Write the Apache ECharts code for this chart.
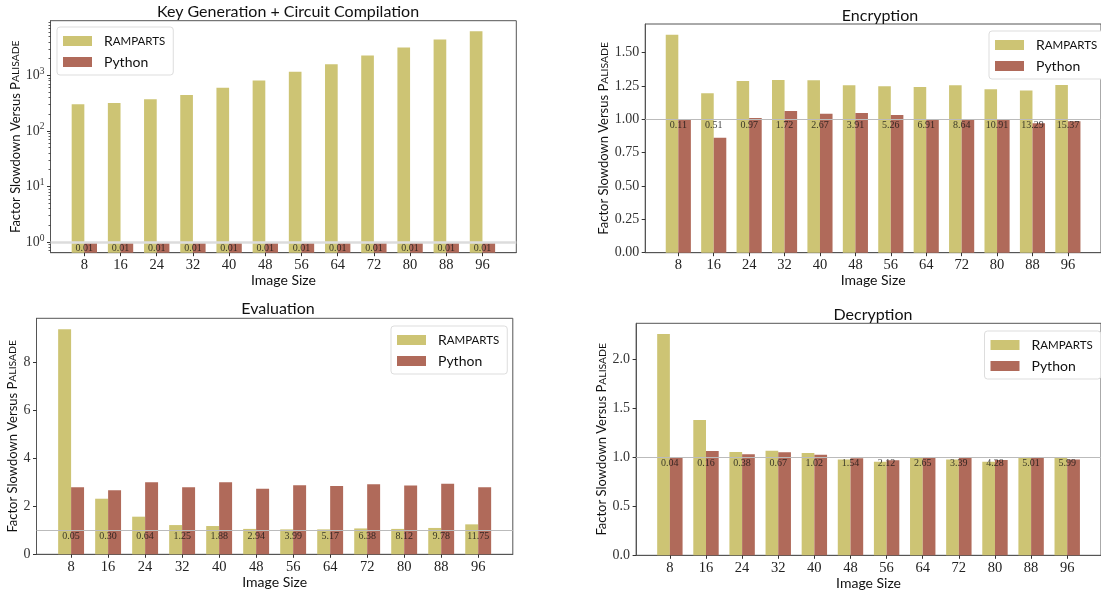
<!DOCTYPE html>
<html lang="en">
<head>
<meta charset="utf-8">
<script src="https://cdn.jsdelivr.net/npm/echarts@6/dist/echarts.min.js"></script>
<style>
  html, body { margin: 0; padding: 0; background: #fff; }
  #chart { width: 1101px; height: 594px; }
</style>
</head>
<body>
<div id="chart"></div>
<script>
// image sizes on the x axis
const sizes = [8, 16, 24, 32, 40, 48, 56, 64, 72, 80, 88, 96]
const refLevel = 1

// key generation + circuit compilation (log scale)
const keygenRamparts = [302, 316, 369, 442, 599, 809, 1160, 1585, 2275, 3165, 4413, 6180]
const keygenPython = [1, 1, 1, 1, 1, 1, 1, 1, 1, 1, 1, 1]
const keygenTimes = ['0.01', '0.01', '0.01', '0.01', '0.01', '0.01', '0.01', '0.01', '0.01', '0.01', '0.01', '0.01']
const logMinorTicks = [0.7, 0.8, 0.9, 2, 3, 4, 5, 6, 7, 8, 9, 20, 30, 40, 50, 60, 70, 80, 90,
  200, 300, 400, 500, 600, 700, 800, 900, 2000, 3000, 4000, 5000, 6000, 7000, 8000, 9000]

// encryption
const encRamparts = [1.634, 1.195, 1.287, 1.295, 1.292, 1.255, 1.247, 1.242, 1.255, 1.225, 1.215, 1.257]
const encPython = [0.995, 0.862, 1.010, 1.062, 1.042, 1.047, 1.032, 0.995, 0.995, 0.995, 0.970, 0.985]
const encTimes = ['0.11', '0.51', '0.97', '1.72', '2.67', '3.91', '5.26', '6.91', '8.64', '10.91', '13.29', '15.37']

// evaluation
const evalRamparts = [9.39, 2.32, 1.57, 1.22, 1.18, 1.06, 1.04, 1.04, 1.08, 1.06, 1.10, 1.25]
const evalPython = [2.80, 2.67, 3.01, 2.80, 3.01, 2.74, 2.88, 2.85, 2.92, 2.87, 2.94, 2.80]
const evalTimes = ['0.05', '0.30', '0.64', '1.25', '1.88', '2.94', '3.99', '5.17', '6.38', '8.12', '9.78', '11.75']

// decryption
const decRamparts = [2.254, 1.378, 1.052, 1.066, 1.042, 0.977, 0.953, 0.994, 0.977, 0.953, 1.0, 1.0]
const decPython = [1.0, 1.062, 1.028, 1.049, 1.025, 0.988, 0.967, 0.991, 0.998, 0.970, 0.991, 0.977]
const decTimes = ['0.04', '0.16', '0.38', '0.67', '1.02', '1.54', '2.12', '2.65', '3.39', '4.28', '5.01', '5.99']

const SANS = 'Lato'
const SERIF = 'Liberation Serif'
const RAMPARTS_COLOR = '#cdc474'
const PYTHON_COLOR = '#b06a5a'
const X_MIN = 0.52, X_MAX = 103.48

const panels = [
  {
    title: 'Key Generation + Circuit Compilation', titleX: 283, titleY: -1.5,
    grid: {left: 50.5, top: 20.7, width: 465.8, height: 232},
    legend: {left: 57, top: 27},
    yName: 28, xName: 19,
    y: {type: 'log', logBase: 10, min: 0.642, max: 9600},
    refLine: {color: '#dcdcdc', width: 2.5},
    ramparts: keygenRamparts, python: keygenPython, times: keygenTimes
  },
  {
    title: 'Encryption', titleX: 875, titleY: 3,
    grid: {left: 645.2, top: 24, width: 462, height: 228.7},
    legend: {left: 989, top: 31},
    yName: 32, xName: 19,
    y: {type: 'value', min: 0, max: 1.714, interval: 0.25, fmt: v => v.toFixed(2)},
    refLine: {color: '#bbbbbb', width: 1},
    ramparts: encRamparts, python: encPython, times: encTimes
  },
  {
    title: 'Evaluation', titleX: 273, titleY: 295.5,
    grid: {left: 36.5, top: 318.3, width: 476.3, height: 236},
    legend: {left: 391, top: 326},
    yName: 16.5, xName: 20,
    y: {type: 'value', min: 0, max: 9.85, interval: 2, fmt: v => String(v)},
    refLine: {color: '#bbbbbb', width: 1},
    ramparts: evalRamparts, python: evalPython, times: evalTimes
  },
  {
    title: 'Decryption', titleX: 868, titleY: 302,
    grid: {left: 636.1, top: 323.3, width: 467, height: 232},
    legend: {left: 984.5, top: 331},
    yName: 26, xName: 19.5,
    y: {type: 'value', min: 0, max: 2.363, interval: 0.5, fmt: v => v.toFixed(1)},
    refLine: {color: '#bbbbbb', width: 1},
    ramparts: decRamparts, python: decPython, times: decTimes
  }
]

const axisColor = '#555'
let option = {
  animation: false,
  backgroundColor: '#fff',
  title: [], grid: [], xAxis: [], yAxis: [], legend: [], series: []
}

panels.forEach((p, i) => {
  const barW = 0.35 * p.grid.width / ((X_MAX - X_MIN) / 8)
  option.title.push({
    text: p.title, left: p.titleX, top: p.titleY, textAlign: 'center',
    textStyle: {fontFamily: SANS, fontSize: 16, fontWeight: 'normal', color: '#111'}
  })
  option.grid.push(Object.assign({show: true, borderColor: axisColor, borderWidth: 1, containLabel: false}, p.grid))
  option.legend.push({
    orient: 'vertical', left: p.legend.left, top: p.legend.top,
    data: ['Ramparts', 'Python'],
    itemWidth: 29, itemHeight: 10, itemGap: 7,
    padding: [7, 8, 6, 6],
    backgroundColor: '#fff', borderColor: '#dddddd', borderWidth: 1, borderRadius: 3,
    icon: 'rect',
    formatter: name => name === 'Ramparts' ? '{g|}{c|R}{s|AMPARTS}' : '{g|}{c|Python}',
    textStyle: {
      fontFamily: SANS, color: '#111', lineHeight: 14,
      rich: {
        g: {width: 7},
        c: {fontFamily: SANS, fontSize: 14, color: '#111'},
        s: {fontFamily: SANS, fontSize: 11.5, color: '#111'}
      }
    }
  })
  option.xAxis.push({
    type: 'value', gridIndex: i, min: X_MIN, max: X_MAX,
    name: 'Image Size', nameLocation: 'middle', nameGap: p.xName,
    nameTextStyle: {fontFamily: SANS, fontSize: 14, color: '#111'},
    axisLine: {show: true, lineStyle: {color: axisColor}},
    axisTick: {show: true, length: 3.5, lineStyle: {color: '#333'}, customValues: sizes},
    axisLabel: {customValues: sizes, margin: 5, fontFamily: SERIF, fontSize: 14.5, color: '#222'},
    splitLine: {show: false}
  })
  const y = {
    gridIndex: i, type: p.y.type, min: p.y.min, max: p.y.max,
    name: 'Factor Slowdown Versus {c|P}{s|ALISADE}', nameLocation: 'middle', nameGap: p.yName,
    nameTextStyle: {
      fontFamily: SANS, fontSize: 13, color: '#111',
      rich: {c: {fontFamily: SANS, fontSize: 13, color: '#111'}, s: {fontFamily: SANS, fontSize: 10.4, color: '#111'}}
    },
    axisLine: {show: true, lineStyle: {color: axisColor}},
    axisTick: {show: true, length: 3.5, lineStyle: {color: '#333'}},
    splitLine: {show: false},
    axisLabel: {margin: 6, fontFamily: SERIF, fontSize: 14, color: '#333', showMinLabel: true, showMaxLabel: false}
  }
  if (p.y.type === 'log') {
    y.logBase = p.y.logBase
    y.startValue = p.y.min
    y.axisLabel.showMinLabel = false
    y.axisLabel.formatter = v => '{b|10}{e|' + Math.round(Math.log10(v)) + '}'
    y.axisLabel.rich = {
      b: {fontFamily: SERIF, fontSize: 14, color: '#333'},
      e: {fontFamily: SERIF, fontSize: 9.5, color: '#333', padding: [0, 0, 8, 0]}
    }
  } else {
    y.interval = p.y.interval
    y.axisLabel.formatter = p.y.fmt
  }
  option.yAxis.push(y)

  option.series.push({
    name: 'Ramparts', type: 'bar', xAxisIndex: i, yAxisIndex: i,
    barWidth: barW, barGap: '0%',
    itemStyle: {color: RAMPARTS_COLOR},
    data: sizes.map((s, k) => [s, p.ramparts[k]])
  })
  option.series.push({
    name: 'Python', type: 'bar', xAxisIndex: i, yAxisIndex: i,
    barWidth: barW, barGap: '0%',
    itemStyle: {color: PYTHON_COLOR},
    data: sizes.map((s, k) => [s, p.python[k]]),
    markLine: {
      silent: true, symbol: 'none', label: {show: false},
      lineStyle: {type: 'solid', color: p.refLine.color, width: p.refLine.width},
      data: [{yAxis: refLevel}]
    }
  })
  option.series.push({
    name: 'times', type: 'scatter', xAxisIndex: i, yAxisIndex: i, z: 5,
    symbolSize: 1, itemStyle: {color: 'transparent'},
    data: sizes.map(s => [s, refLevel]),
    label: {
      show: true, position: 'bottom', distance: 1,
      formatter: param => p.times[param.dataIndex],
      fontFamily: SERIF, fontSize: 10, color: '#111'
    }
  })
})

// minor ticks of the log axis, on a second axis in the first grid
option.yAxis.push({
  gridIndex: 0, type: 'log', logBase: 10, min: panels[0].y.min, max: panels[0].y.max, position: 'left',
  axisLine: {show: false}, axisLabel: {show: false}, splitLine: {show: false},
  axisTick: {show: true, length: 2, lineStyle: {color: '#333', width: 0.8}, customValues: logMinorTicks}
})

let chart = echarts.init(document.querySelector('#chart'))
chart.setOption(option)
</script>
</body>
</html>
